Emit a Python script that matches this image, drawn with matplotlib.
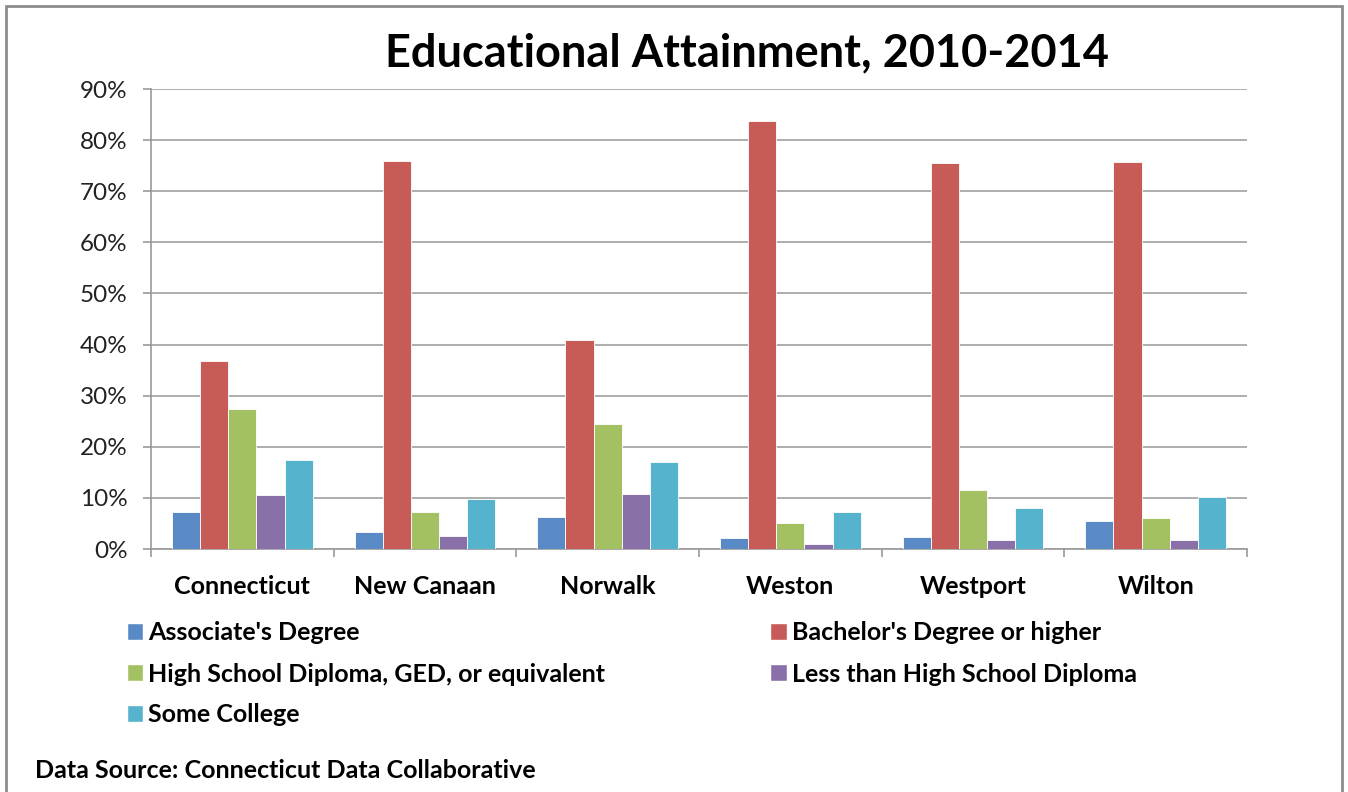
import numpy as np
import matplotlib
matplotlib.use("Agg")
import matplotlib.pyplot as plt
from matplotlib.patches import Rectangle, Patch

# -----------------------------
# DATA
# -----------------------------

towns = ["Connecticut", "New Canaan", "Norwalk", "Weston", "Westport", "Wilton"]

series_names = [
    "Associate's Degree",
    "Bachelor's Degree or higher",
    "High School Diploma, GED, or equivalent",
    "Less than High School Diploma",
    "Some College",
]

associate = [7.3, 3.4, 6.3, 2.1, 2.3, 5.5]
bachelor = [36.8, 75.9, 40.9, 83.8, 75.5, 75.7]
high_school = [27.4, 7.3, 24.5, 5.0, 11.5, 6.0]
less_than_hs = [10.5, 2.6, 10.7, 1.0, 1.8, 1.8]
some_college = [17.5, 9.7, 17.0, 7.3, 8.1, 10.2]

colors = ["#5A8AC6", "#C75B57", "#A3C063", "#8A70A9", "#56B3CD"]

y_ticks = [0, 10, 20, 30, 40, 50, 60, 70, 80, 90]

# -----------------------------
# FIGURE
# -----------------------------

plt.rcParams["font.family"] = ["Lato", "DejaVu Sans"]

W, H = 1348, 792
fig = plt.figure(figsize=(W / 100, H / 100), dpi=100)

# outer frame
fig.patches.append(Rectangle((6 / W, -0.05), (1342 - 6) / W, 1.05 - 6 / H,
                             transform=fig.transFigure, fill=False,
                             edgecolor="#8C8C8C", linewidth=2))

ax = fig.add_axes([151 / W, (H - 549) / H, 1096 / W, 460 / H])

all_series = [associate, bachelor, high_school, less_than_hs, some_college]
x = np.arange(len(towns))
bar_w = 0.154
for i, (vals, name, c) in enumerate(zip(all_series, series_names, colors)):
    offset = (i - 2) * bar_w
    ax.bar(x + offset, vals, width=bar_w, color=c, edgecolor="white",
           linewidth=0.6, label=name, zorder=3)

ax.set_xlim(-0.5, 5.5)
ax.set_ylim(0, 90)
ax.set_yticks(y_ticks)
ax.set_yticklabels([f"{v}%" for v in y_ticks], fontsize=17.5, color="#222222")
ax.yaxis.grid(True, color="#ADADAD", linewidth=1.4, zorder=0)
ax.set_axisbelow(True)

ax.set_xticks(x)
ax.set_xticklabels(towns, fontsize=18, fontweight="bold")
ax.set_xticks(np.arange(-0.5, 6, 1), minor=True)
ax.tick_params(axis="x", which="major", length=0, pad=19)
ax.tick_params(axis="x", which="minor", length=6, color="#9A9A9A", width=1.2)
ax.tick_params(axis="y", length=6, color="#9A9A9A", width=1.2, pad=11)

for s in ["top", "right"]:
    ax.spines[s].set_visible(False)
ax.spines["left"].set_color("#9A9A9A")
ax.spines["bottom"].set_color("#9A9A9A")
ax.spines["left"].set_linewidth(1.2)
ax.spines["bottom"].set_linewidth(1.2)

fig.text(747 / W, 1 - 53 / H, "Educational Attainment, 2010-2014",
         ha="center", va="center", fontsize=32.5, fontweight="bold")

# legend, row order as in the original
handles = [Patch(facecolor=c, edgecolor="white") for c in colors]
order = [0, 2, 4, 1, 3]
leg = fig.legend([handles[i] for i in order], [series_names[i] for i in order],
                 ncol=2, loc="upper left", bbox_to_anchor=(104 / W, 1 - 599 / H),
                 frameon=False, prop={"size": 18, "weight": "bold"},
                 handlelength=0.65, handleheight=0.65, handletextpad=0.22,
                 labelspacing=0.72, columnspacing=6.6)

fig.text(35 / W, 1 - 770 / H, "Data Source: Connecticut Data Collaborative",
         ha="left", va="center", fontsize=18, fontweight="bold")

fig.savefig("out.png", dpi=100)
